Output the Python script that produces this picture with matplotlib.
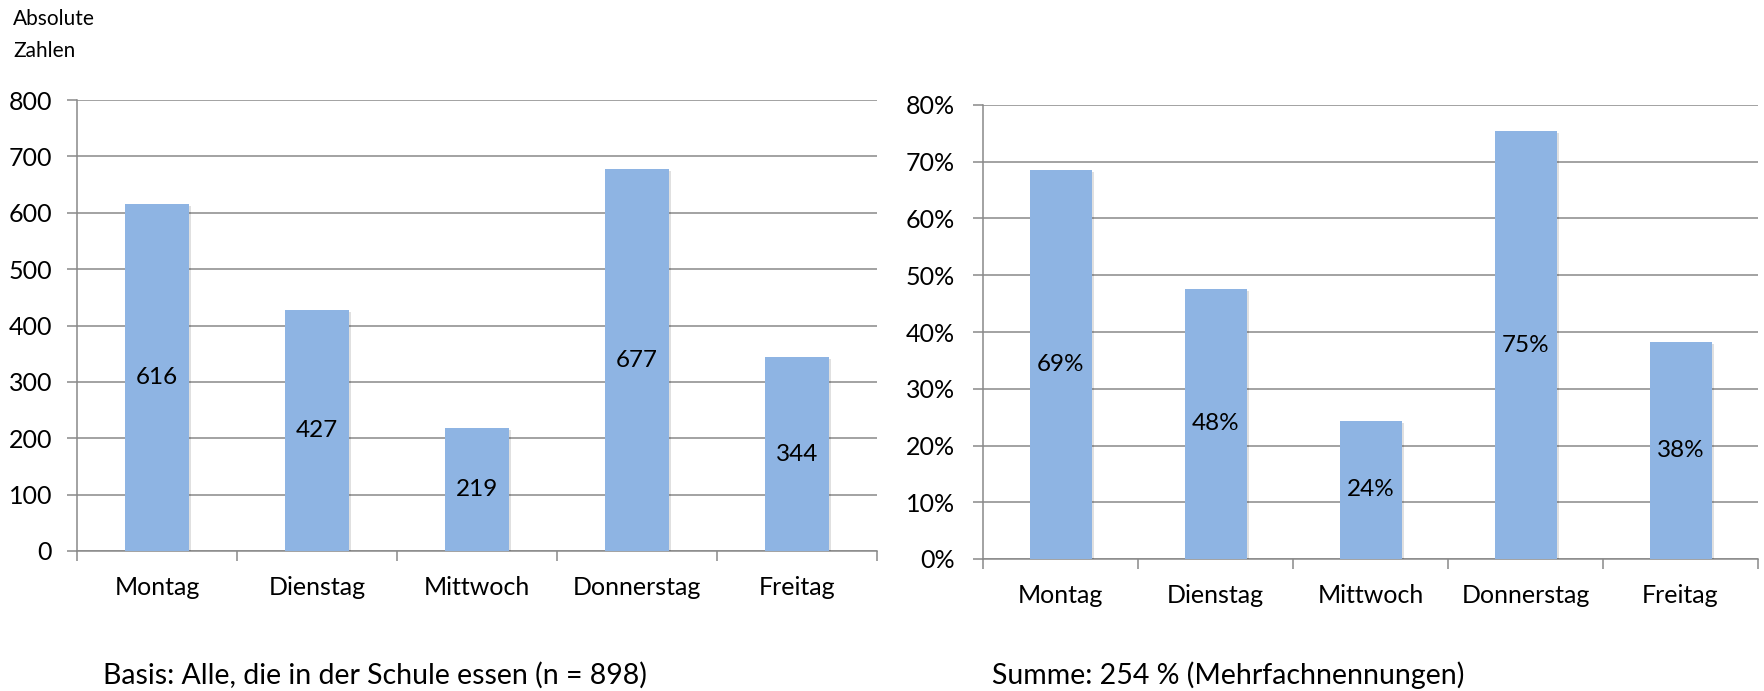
import matplotlib
matplotlib.use("Agg")
import matplotlib.pyplot as plt
import matplotlib.patheffects as pe
from matplotlib.ticker import FixedLocator, PercentFormatter

plt.rcParams['font.family'] = ['Lato', 'DejaVu Sans']

days = ["Montag", "Dienstag", "Mittwoch", "Donnerstag", "Freitag"]
counts = [616, 427, 219, 677, 344]
count_labels = ["616", "427", "219", "677", "344"]
percents = [68.6, 47.6, 24.4, 75.4, 38.3]
percent_labels = ["69%", "48%", "24%", "75%", "38%"]

W, H = 1764, 691
DPI = 100
fig = plt.figure(figsize=(W / DPI, H / DPI), dpi=DPI)

BAR = "#8EB4E3"
GRID = "#898989"
FS = 18
FS_BAR = 17.5


def box(x0, y_bottom, w, h):
    return [x0 / W, (H - y_bottom) / H, w / W, h / H]


def style(ax, ymax, step, ylab_pad):
    ax.set_xlim(-0.5, 4.5)
    ax.set_ylim(0, ymax)
    ax.set_yticks([i * step for i in range(int(round(ymax / step)) + 1)])
    ax.yaxis.grid(True, color=GRID, linewidth=1.1)
    ax.set_axisbelow(True)
    for s in ["top", "right"]:
        ax.spines[s].set_visible(False)
    for s in ["left", "bottom"]:
        ax.spines[s].set_color(GRID)
        ax.spines[s].set_linewidth(1.1)
    ax.tick_params(axis="y", length=7, width=1.1, color=GRID, pad=ylab_pad, labelsize=FS)
    ax.set_xticks(range(len(days)))
    ax.set_xticklabels(days, fontsize=FS)
    ax.tick_params(axis="x", which="major", length=0, pad=18)
    ax.xaxis.set_minor_locator(FixedLocator([i - 0.5 for i in range(len(days) + 1)]))
    ax.tick_params(axis="x", which="minor", length=7, width=1.1, color=GRID)


shadow = [pe.SimplePatchShadow(offset=(1.5, -1.5), shadow_rgbFace="#000000", alpha=0.12), pe.Normal()]

# Left chart
ax1 = fig.add_axes(box(77, 551, 800, 451))
style(ax1, 800, 100, 11)
bars1 = ax1.bar(range(len(days)), counts, width=0.4, color=BAR, zorder=3)
for b in bars1:
    b.set_path_effects(shadow)
for i, (v, lab) in enumerate(zip(counts, count_labels)):
    ax1.text(i, v / 2, lab, ha="center", va="center", fontsize=FS_BAR, color="black", zorder=4)

# Right chart
ax2 = fig.add_axes(box(983, 559, 775, 454))
style(ax2, 80, 10, 13)
ax2.yaxis.set_major_formatter(PercentFormatter(decimals=0))
bars2 = ax2.bar(range(len(days)), percents, width=0.4, color=BAR, zorder=3)
for b in bars2:
    b.set_path_effects(shadow)
for i, (v, lab) in enumerate(zip(percents, percent_labels)):
    ax2.text(i, v / 2, lab, ha="center", va="center", fontsize=FS_BAR, color="black", zorder=4)

fig.text(13 / W, 1 - 19 / H, "Absolute", fontsize=15, ha="left", va="center")
fig.text(13 / W, 1 - 51 / H, "Zahlen", fontsize=15, ha="left", va="center")
fig.text(103 / W, 1 - 675 / H, "Basis: Alle, die in der Schule essen (n = 898)", fontsize=20.5, ha="left", va="center")
fig.text(992 / W, 1 - 675 / H, "Summe: 254 % (Mehrfachnennungen)", fontsize=20.5, ha="left", va="center")

fig.savefig("out.png", dpi=DPI)
